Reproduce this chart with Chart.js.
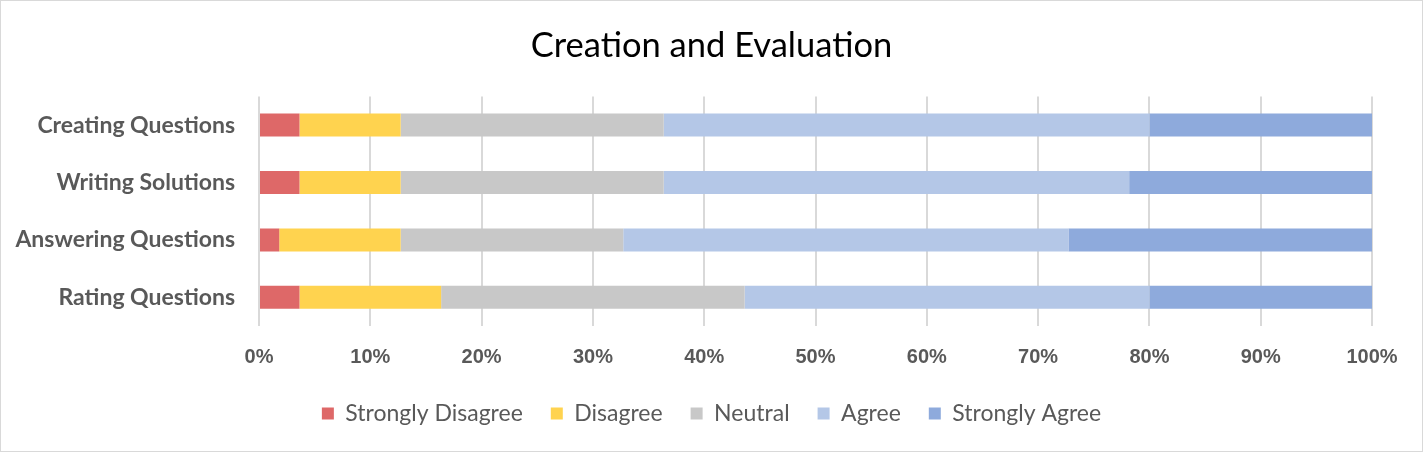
<!doctype html>
<html lang="en">
<head>
<meta charset="utf-8">
<title>Creation and Evaluation</title>
<script src="https://cdn.jsdelivr.net/npm/chart.js"></script>
<style>
  html, body { margin: 0; padding: 0; background: #fff; }
  .chart-box {
    width: 1423px; height: 452px;
    box-sizing: border-box;
    border: 1px solid #d9d9d9;
    position: relative;
  }
</style>
</head>
<body>
<div class="chart-box">
  <canvas id="stackChart"></canvas>
</div>

<script>
  // survey answers, counted per activity (n = 55)
  var activities = ['Creating Questions', 'Writing Solutions', 'Answering Questions', 'Rating Questions'];
  var stronglyDisagree = [2, 2, 1, 2];
  var disagree         = [5, 5, 6, 7];
  var neutral          = [13, 13, 11, 15];
  var agree            = [24, 23, 22, 20];
  var stronglyAgree    = [11, 12, 15, 11];
  var percentTicks = [0, 10, 20, 30, 40, 50, 60, 70, 80, 90, 100];

  var totals = activities.map(function (a, i) {
    return stronglyDisagree[i] + disagree[i] + neutral[i] + agree[i] + stronglyAgree[i];
  });
  function share(arr) {
    return arr.map(function (v, i) { return v / totals[i] * 100; });
  }

  var series = [
    { label: 'Strongly Disagree', values: stronglyDisagree, color: '#de6868' },
    { label: 'Disagree',          values: disagree,         color: '#ffd34f' },
    { label: 'Neutral',           values: neutral,          color: '#c8c8c8' },
    { label: 'Agree',             values: agree,            color: '#b4c7e7' },
    { label: 'Strongly Agree',    values: stronglyAgree,    color: '#8eaadc' }
  ];

  var ctx = document.getElementById('stackChart').getContext('2d');
  new Chart(ctx, {
    type: 'bar',
    data: {
      labels: activities,
      datasets: series.map(function (s) {
        return {
          label: s.label,
          data: share(s.values),
          backgroundColor: s.color,
          borderWidth: 0,
          categoryPercentage: 1,
          barPercentage: 0.4
        };
      })
    },
    options: {
      indexAxis: 'y',
      responsive: true,
      maintainAspectRatio: false,
      animation: false,
      layout: { padding: { left: 0, right: 0, top: 0, bottom: 16 } },
      plugins: {
        title: {
          display: true,
          text: 'Creation and Evaluation',
          color: '#000',
          font: { family: 'Lato', size: 34.5, weight: 'normal' },
          padding: { top: 24, bottom: 30 }
        },
        legend: {
          position: 'bottom',
          labels: {
            color: '#595959',
            font: { family: 'Lato', size: 23 },
            boxWidth: 12,
            boxHeight: 12,
            padding: 28
          }
        },
        tooltip: { enabled: false }
      },
      scales: {
        x: {
          stacked: true,
          min: 0,
          max: 100,
          afterBuildTicks: function (scale) {
            scale.ticks = percentTicks.map(function (v) { return { value: v }; });
          },
          afterFit: function (scale) { scale.height = 48; },
          grid: { color: '#d9d9d9', lineWidth: 2, drawTicks: false },
          border: { display: false },
          ticks: {
            color: '#595959',
            padding: 19,
            font: { family: 'Liberation Sans', size: 20, weight: 'bold' },
            callback: function (v) { return v + '%'; }
          }
        },
        y: {
          stacked: true,
          afterFit: function (scale) { scale.width = 258; },
          grid: { display: false, drawTicks: false },
          border: { display: false },
          ticks: {
            color: '#595959',
            padding: 24,
            font: { family: 'Lato', size: 23, weight: 'bold' }
          }
        },
        // empty right-hand spacer so title and legend stay centred on the whole box
        spacer: {
          type: 'linear',
          position: 'right',
          afterFit: function (scale) { scale.width = 50; },
          grid: { display: false, drawTicks: false },
          border: { display: false },
          ticks: { display: false }
        }
      }
    }
  });
</script>
</body>
</html>
